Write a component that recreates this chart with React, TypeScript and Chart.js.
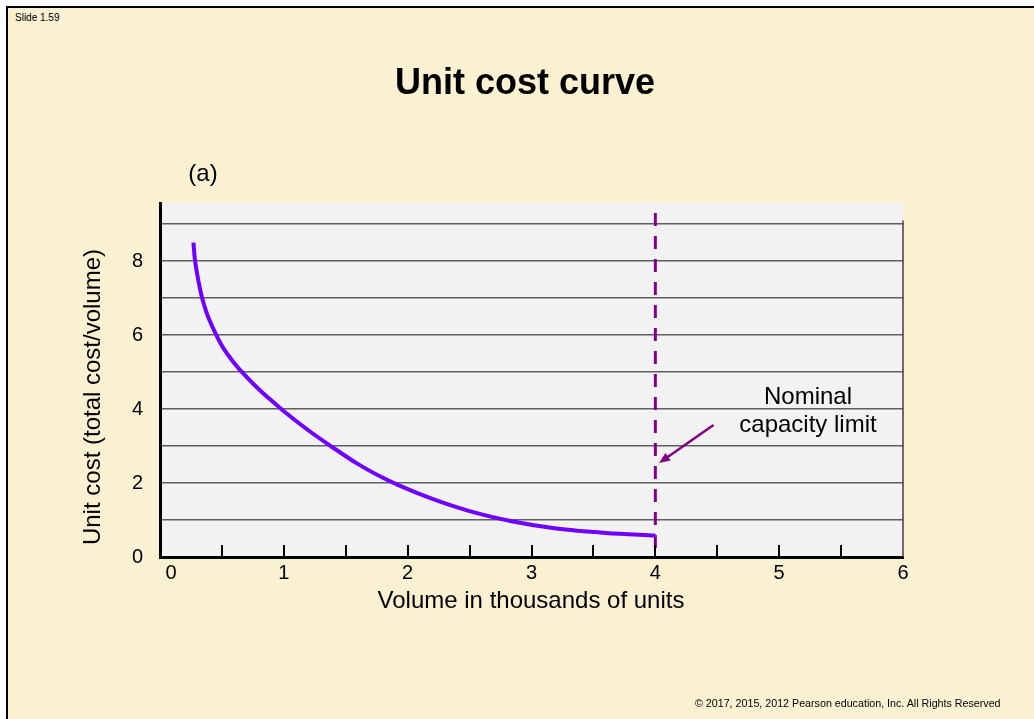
import React, { useEffect, useRef } from "react";
import { Chart, registerables } from "chart.js";

Chart.register(...registerables);

// ---- data ----
const curveX = [0.27, 0.28, 0.3, 0.32, 0.34, 0.37, 0.4, 0.45, 0.5, 0.55, 0.6, 0.67, 0.8, 0.9, 1.0, 1.2, 1.37, 1.6, 1.8, 1.92, 2.2, 2.5, 2.85, 3.2, 3.6, 4.0];
const curveY = [8.5, 8.1, 7.65, 7.3, 7.0, 6.67, 6.4, 6.03, 5.71, 5.46, 5.24, 4.97, 4.53, 4.23, 3.94, 3.42, 3.02, 2.51, 2.14, 1.95, 1.57, 1.24, 0.96, 0.77, 0.65, 0.58];
const capacityX = [4, 4];
const capacityY = [9.3, 0];
const arrowFrom = [4.47, 3.57];
const arrowTo = [4.03, 2.54];
const xTickValues = [0, 0.5, 1, 1.5, 2, 2.5, 3, 3.5, 4, 4.5, 5, 5.5, 6];
const xTickLabels = ["    0", "", "1", "", "2", "", "3", "", "4", "", "5", "", "6"];
const yTickValues = [0, 1, 2, 3, 4, 5, 6, 7, 8, 9];
const yTickLabels = ["0", "", "2", "", "4", "", "6", "", "8", ""];

const FONT = "'Liberation Sans', Arial, Helvetica, sans-serif";

const slidePlugin = {
  id: "slideDecor",
  beforeDraw(chart: any) {
    const { ctx, chartArea: a } = chart;
    ctx.save();
    ctx.fillStyle = "#f2f2f2";
    ctx.fillRect(a.left, a.top, a.right - a.left, a.bottom - a.top);
    ctx.restore();
  },
  afterDraw(chart: any) {
    const { ctx, chartArea: a } = chart;
    const xs = chart.scales.x;
    const ys = chart.scales.y;
    ctx.save();
    // right frame edge
    ctx.strokeStyle = "#404040";
    ctx.lineWidth = 1.5;
    ctx.beginPath();
    ctx.moveTo(a.right, ys.getPixelForValue(9.1));
    ctx.lineTo(a.right, a.bottom);
    ctx.stroke();
    // inner tick marks
    ctx.strokeStyle = "#000";
    ctx.lineWidth = 2;
    xTickValues.forEach((v) => {
      if (v <= 0 || v >= 6) return;
      const px = Math.round(xs.getPixelForValue(v));
      ctx.beginPath();
      ctx.moveTo(px, a.bottom);
      ctx.lineTo(px, a.bottom - 12);
      ctx.stroke();
    });
    // arrow
    const x1 = xs.getPixelForValue(arrowFrom[0]);
    const y1 = ys.getPixelForValue(arrowFrom[1]);
    const x2 = xs.getPixelForValue(arrowTo[0]);
    const y2 = ys.getPixelForValue(arrowTo[1]);
    const ang = Math.atan2(y2 - y1, x2 - x1);
    const hl = 11;
    const hw = 4.5;
    ctx.strokeStyle = "#800080";
    ctx.fillStyle = "#800080";
    ctx.lineWidth = 2.5;
    ctx.beginPath();
    ctx.moveTo(x1, y1);
    ctx.lineTo(x2 - Math.cos(ang) * hl * 0.8, y2 - Math.sin(ang) * hl * 0.8);
    ctx.stroke();
    ctx.beginPath();
    ctx.moveTo(x2, y2);
    ctx.lineTo(x2 - Math.cos(ang) * hl - Math.sin(ang) * hw, y2 - Math.sin(ang) * hl + Math.cos(ang) * hw);
    ctx.lineTo(x2 - Math.cos(ang) * hl + Math.sin(ang) * hw, y2 - Math.sin(ang) * hl - Math.cos(ang) * hw);
    ctx.closePath();
    ctx.fill();
    ctx.restore();
  },
};

function ChartCanvas() {
  const ref = useRef<HTMLCanvasElement | null>(null);
  useEffect(() => {
    if (!ref.current) return;
    const chart = new Chart(ref.current, {
      type: "scatter",
      data: {
        datasets: [
          {
            label: "Unit cost",
            data: curveX.map((x, i) => ({ x, y: curveY[i] })),
            showLine: true,
            borderColor: "#6f00ff",
            borderWidth: 4,
            pointRadius: 0,
            cubicInterpolationMode: "monotone",
            fill: false,
          },
          {
            label: "Nominal capacity limit",
            data: capacityX.map((x, i) => ({ x, y: capacityY[i] })),
            showLine: true,
            borderColor: "#800080",
            borderWidth: 3,
            borderDash: [13, 10],
            pointRadius: 0,
            fill: false,
          },
        ],
      },
      options: {
        responsive: false,
        animation: false,
        devicePixelRatio: 1,
        layout: { padding: { left: 60, right: 131, top: 203, bottom: 100 } },
        plugins: {
          legend: { display: false },
          tooltip: { enabled: false },
          title: { display: false },
        },
        scales: {
          x: {
            type: "linear",
            min: 0,
            max: 6,
            afterBuildTicks: (s: any) => {
              s.ticks = xTickValues.map((v) => ({ value: v }));
            },
            afterFit: (s: any) => {
              s.height = 62;
            },
            grid: { display: false },
            border: { display: true, color: "#000", width: 3 },
            ticks: {
              autoSkip: false,
              maxRotation: 0,
              padding: -4,
              color: "#000",
              font: { family: FONT, size: 20 },
              callback: (_v: any, i: number) => xTickLabels[i],
            },
          },
          y: {
            type: "linear",
            min: 0,
            max: 9.57,
            afterBuildTicks: (s: any) => {
              s.ticks = yTickValues.map((v) => ({ value: v }));
            },
            afterFit: (s: any) => {
              s.width = 100;
            },
            grid: { display: true, color: "#5e5e5e", lineWidth: 1.5, drawTicks: false },
            border: { display: true, color: "#000", width: 3 },
            ticks: {
              autoSkip: false,
              padding: 17,
              color: "#000",
              font: { family: FONT, size: 20 },
              callback: (_v: any, i: number) => yTickLabels[i],
            },
          },
        },
      },
      plugins: [slidePlugin],
    });
    return () => chart.destroy();
  }, []);
  return <canvas ref={ref} width={1034} height={719} style={{ position: "absolute", left: 0, top: 0, width: 1034, height: 719 }} />;
}

function Label(props: { text: string; cx: number; cy: number; size: number; bold?: boolean; w?: number }) {
  const w = props.w ?? 600;
  return (
    <div
      style={{
        position: "absolute",
        left: props.cx - w / 2,
        top: props.cy - props.size / 2,
        width: w,
        textAlign: "center",
        fontSize: props.size,
        lineHeight: `${props.size}px`,
        fontWeight: props.bold ? 700 : 400,
        whiteSpace: "nowrap",
        color: "#000",
      }}
    >
      {props.text}
    </div>
  );
}

export default function App() {
  return (
    <div
      style={{
        position: "fixed",
        left: 0,
        top: 0,
        width: 1034,
        height: 719,
        overflow: "hidden",
        background: "#ffffff",
        fontFamily: FONT,
      }}
    >
      <div
        style={{
          position: "absolute",
          left: 6,
          top: 6,
          width: 1100,
          height: 800,
          background: "#faf0d2",
          borderLeft: "2px solid #000",
          borderTop: "2px solid #000",
        }}
      />
      <div style={{ position: "absolute", left: 15, top: 13, fontSize: 10, lineHeight: "10px", color: "#000" }}>Slide 1.59</div>
      <ChartCanvas />
      <Label text="Unit cost curve" cx={525} cy={82} size={36} bold />
      <Label text="(a)" cx={203} cy={173} size={24} w={100} />
      <Label text="Nominal" cx={808} cy={395.5} size={24} w={240} />
      <Label text="capacity limit" cx={808} cy={424} size={24} w={240} />
      <Label text="Volume in thousands of units" cx={531} cy={600} size={24} />
      <div
        style={{
          position: "absolute",
          left: 92 - 200,
          top: 397 - 12,
          width: 400,
          textAlign: "center",
          fontSize: 24,
          lineHeight: "24px",
          whiteSpace: "nowrap",
          transform: "rotate(-90deg)",
          transformOrigin: "50% 50%",
          color: "#000",
        }}
      >
        Unit cost (total cost/volume)
      </div>
      <div style={{ position: "absolute", left: 695, top: 698, fontSize: 10.7, lineHeight: "11px", whiteSpace: "nowrap", color: "#000" }}>
        © 2017, 2015, 2012 Pearson education, Inc. All Rights Reserved
      </div>
    </div>
  );
}
